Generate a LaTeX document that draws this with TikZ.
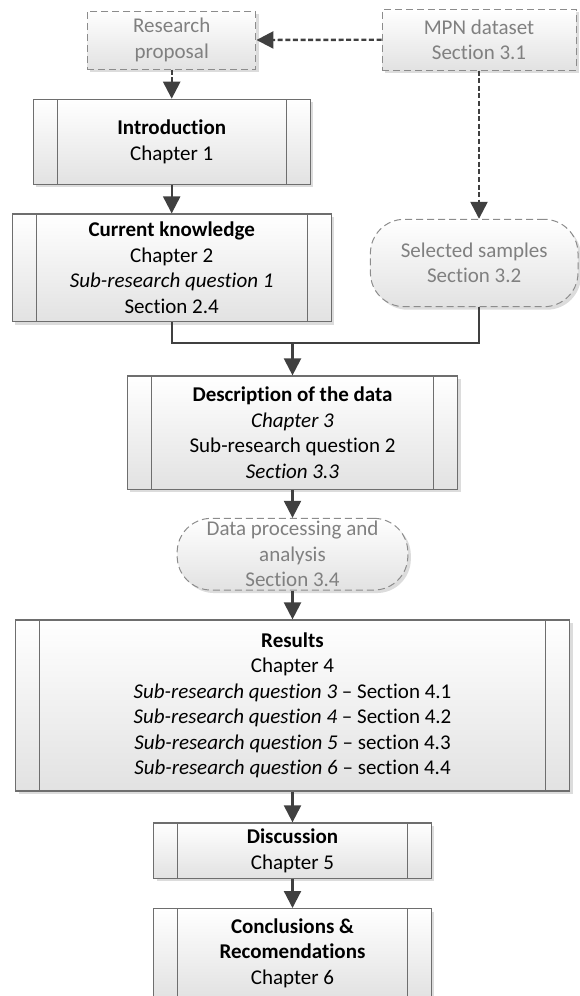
\documentclass[tikz,border=0pt]{standalone}
\usepackage{fontspec}
\setmainfont{Carlito}[RawFeature={-liga}]
\usetikzlibrary{arrows.meta,calc,shadows}
\definecolor{BoxClr}{RGB}{110,110,110}
\definecolor{DashClr}{RGB}{140,140,140}
\definecolor{TextClr}{RGB}{128,128,128}
\definecolor{ArrClr}{RGB}{64,64,64}
\definecolor{FillClr}{RGB}{226,226,226}

\begin{document}
\begin{tikzpicture}[x=0.5pt,y=-0.5pt,
  font=\fontsize{10.5}{12.75}\selectfont,
  basebox/.style={align=center,inner sep=0pt,top color=white,bottom color=FillClr,
    drop shadow={shadow xshift=1.5pt,shadow yshift=-1.5pt,opacity=.3,fill=black!45}},
  procbox/.style={basebox,draw=BoxClr,line width=.6pt,
    path picture={\draw[BoxClr,line width=.6pt]
      ([xshift=12pt]path picture bounding box.north west) -- ([xshift=12pt]path picture bounding box.south west)
      ([xshift=-12pt]path picture bounding box.north east) -- ([xshift=-12pt]path picture bounding box.south east);}},
  dashbox/.style={basebox,draw=DashClr,text=TextClr,line width=.5pt,dash pattern=on 3.5pt off 2pt},
  termbox/.style={dashbox,rounded corners=17pt},
  arr/.style={ArrClr,line width=1.1pt,-{Triangle[width=8.5pt,length=8.5pt]}},
  dotarr/.style={arr,line width=1.2pt,dash pattern=on 2.5pt off 1.3pt}]

\useasboundingbox (0,0) rectangle (579,996);

\node[dashbox,minimum width=84.25pt,minimum height=29pt] (prop) at (171.7,40) {Research\\proposal};
\node[dashbox,minimum width=97pt,minimum height=30.3pt] (mpn) at (479,39.7) {MPN dataset\\Section 3.1};

\node[procbox,minimum width=138.5pt,minimum height=42.5pt] (intro) at (171.7,141.8)
  {\textbf{Introduction}\\Chapter 1};
\node[procbox,minimum width=159.5pt,minimum height=53.85pt] (know) at (171.7,267.9)
  {\textbf{Current knowledge}\\Chapter 2\\\textit{Sub-research question 1}\\Section 2.4};
\node[termbox,minimum width=103.8pt,minimum height=43.7pt] (samp) at (474.2,263)
  {Selected samples\\Section 3.2};

\node[procbox,minimum width=165.25pt,minimum height=56.7pt] (desc) at (292.5,432.7)
  {\textbf{Description of the data}\\\textit{Chapter 3}\\Sub-research question 2\\\textit{Section 3.3}};
\node[termbox,minimum width=115.35pt,minimum height=35.85pt] (proc) at (292.5,554.2)
  {Data processing and\\analysis\\Section 3.4};
\node[procbox,minimum width=277pt,minimum height=85.5pt] (res) at (292.5,705.5)
  {\textbf{Results}\\Chapter 4\\
   \textit{Sub-research question 3} -- Section 4.1\\
   \textit{Sub-research question 4} -- Section 4.2\\
   \textit{Sub-research question 5} -- section 4.3\\
   \textit{Sub-research question 6} -- section 4.4};
\node[procbox,minimum width=138.9pt,minimum height=27.65pt] (disc) at (292.5,850.6)
  {\textbf{Discussion}\\Chapter 5};
\node[procbox,minimum width=138.9pt,anchor=north,inner ysep=5pt] (conc) at (292.5,908)
  {\textbf{Conclusions \&}\\\textbf{Recomendations}\\Chapter 6};

\draw[dotarr] (mpn.west) -- (prop.east);
\draw[dotarr] (prop) -- (intro);
\draw[dotarr] (mpn) -- (mpn |- samp.north);

\draw[arr] (intro) -- (know);
\coordinate (mrg) at (292.5,343.3);
\draw[ArrClr,line width=1.1pt] (know.south) |- (mrg) -| (samp.south -| mpn.south);
\draw[arr] (mrg) -- (desc);
\draw[arr] (desc) -- (proc);
\draw[arr] (proc) -- (res);
\draw[arr] (res) -- (disc);
\draw[arr] (disc) -- (conc);

\end{tikzpicture}
\end{document}
